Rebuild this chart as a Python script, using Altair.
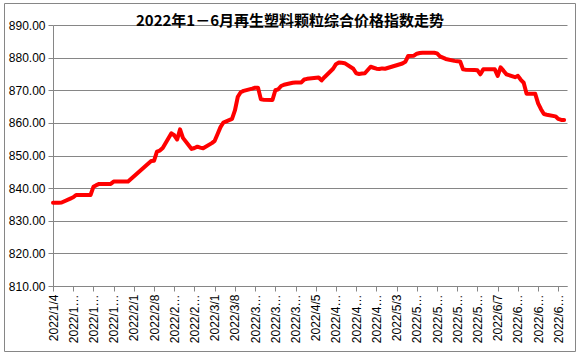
import altair as alt
import pandas as pd

TITLE = "2022年1－6月再生塑料颗粒综合价格指数走势"

jan_days = [4, 5, 6, 7, 10, 11, 12, 13, 14, 17, 18, 19, 20, 21, 24, 25, 26, 27, 28, 29, 30]
jan_vals = [835.5, 835.5, 835.5, 835.6, 836.8, 837.2, 837.9, 837.9, 837.9, 837.9, 840.4,
            840.9, 841.3, 841.3, 841.3, 842.0, 842.0, 842.0, 842.0, 842.0, 842.0]
feb_days = [7, 8, 9, 10, 11, 14, 15, 16, 17, 18, 21, 22, 23, 24, 25, 28]
feb_vals = [848.3, 848.4, 851.2, 851.5, 852.3, 856.8, 856.2, 854.9, 858.0, 855.4,
            852.0, 852.3, 852.7, 852.4, 852.2, 853.8]
mar_days = [1, 2, 3, 4, 7, 8, 9, 10, 11, 14, 15, 16, 17, 18, 21, 22, 23, 24, 25, 28, 29, 30, 31]
mar_vals = [854.5, 856.6, 858.7, 860.1, 861.2, 863.8, 868.0, 869.4, 869.8, 870.5, 870.8,
            870.8, 867.2, 867.1, 867.0, 870.0, 870.3, 871.3, 871.7, 872.3, 872.4, 872.4, 872.4]
apr_days = [1, 2, 6, 7, 8, 11, 12, 13, 14, 15, 18, 19, 20, 21, 22, 24, 25, 26, 27, 28, 29]
apr_vals = [873.3, 873.5, 873.9, 873.0, 874.0, 876.6, 878.0, 878.5, 878.4, 878.3, 876.6,
            875.2, 875.0, 875.1, 875.2, 877.2, 876.9, 876.6, 876.5, 876.7, 876.6]
may_days = [5, 6, 7, 9, 10, 11, 12, 13, 16, 17, 18, 19, 20, 23, 24, 25, 26, 27, 30, 31]
may_vals = [878.2, 878.7, 880.5, 880.6, 881.2, 881.4, 881.5, 881.5, 881.5, 881.3, 880.4,
            880.0, 879.6, 879.0, 878.9, 878.8, 876.4, 876.3, 876.2, 876.1]
jun_days = [1, 2, 6, 7, 8, 9, 10, 13, 14, 15, 16, 17, 20, 21, 22, 23, 24, 27, 28, 29, 30]
jun_vals = [874.9, 876.4, 876.4, 874.4, 877.0, 876.0, 874.9, 874.0, 874.4, 873.2, 872.3,
            868.9, 868.9, 866.0, 864.2, 862.7, 862.5, 862.0, 861.2, 860.9, 860.9]

tick_labels = ["2022/1/4", "2022/1/11", "2022/1/18", "2022/1/25", "2022/2/1", "2022/2/8",
               "2022/2/15", "2022/2/22", "2022/3/1", "2022/3/8", "2022/3/15", "2022/3/22",
               "2022/3/29", "2022/4/5", "2022/4/12", "2022/4/19", "2022/4/26", "2022/5/3",
               "2022/5/10", "2022/5/17", "2022/5/24", "2022/5/31", "2022/6/7", "2022/6/14",
               "2022/6/21", "2022/6/28"]
y_ticks = [810, 820, 830, 840, 850, 860, 870, 880, 890]

months = [(1, jan_days, jan_vals), (2, feb_days, feb_vals), (3, mar_days, mar_vals),
          (4, apr_days, apr_vals), (5, may_days, may_vals), (6, jun_days, jun_vals)]
rows = []
start = pd.Timestamp(2022, 1, 4)
for m, days, vals in months:
    for d, v in zip(days, vals):
        ts = pd.Timestamp(2022, m, d)
        rows.append({"date": f"2022/{m}/{d}", "day": (ts - start).days, "value": v})
df = pd.DataFrame(rows)

tick_days = [(pd.Timestamp(s.replace("/", "-")) - start).days for s in tick_labels]
shown = [s if len(s) <= 8 else s[:6] + "…" for s in tick_labels]
label_expr = "[" + ",".join("'" + s + "'" for s in shown) + "][round(datum.value/7)]"

GRAY = "#868686"
FONT = "Liberation Sans"

line = alt.Chart(df).mark_line(
    color="#FF0000", strokeWidth=4, strokeJoin="round", strokeCap="round"
).encode(
    x=alt.X("day:Q",
            scale=alt.Scale(domain=[0, 178], nice=False, zero=False),
            axis=alt.Axis(values=tick_days, labelExpr=label_expr, labelAngle=270,
                          labelAlign="right", labelBaseline="middle", grid=False,
                          tickSize=5, tickColor=GRAY, domainColor=GRAY,
                          labelColor="black", labelFontSize=12, labelFont=FONT,
                          labelPadding=3, labelOverlap=False, labelFlush=False,
                          title=None)),
    y=alt.Y("value:Q",
            scale=alt.Scale(domain=[810, 890], nice=False, zero=False),
            axis=alt.Axis(values=y_ticks, format=".2f", grid=True, gridColor=GRAY,
                          tickSize=5, tickColor=GRAY, domainColor=GRAY,
                          labelColor="black", labelFontSize=12, labelFont=FONT,
                          labelPadding=3, title=None)),
)

title = alt.Chart(pd.DataFrame({"t": [TITLE]})).mark_text(
    font="Noto Sans CJK SC", fontSize=15, fontWeight="bold", color="black",
    align="center", baseline="middle"
).encode(text="t:N", x=alt.value(237), y=alt.value(-4))

border = alt.Chart(pd.DataFrame({"b": [0]})).mark_rect(
    filled=False, stroke=GRAY, strokeWidth=1
).encode(x=alt.value(-48.5), x2=alt.value(522.5), y=alt.value(-21.5), y2=alt.value(326.5))

chart = alt.layer(line, title, border).properties(
    width=514, height=261,
    autosize=alt.AutoSizeParams(type="none"),
    padding={"left": 53, "top": 25, "right": 13, "bottom": 71},
    background="white",
).configure_view(stroke=None)

chart.save("out.html", embed_options={"renderer": "svg", "actions": False})
